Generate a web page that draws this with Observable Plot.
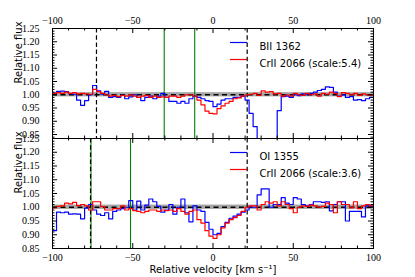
<!DOCTYPE html>
<html><head><meta charset="utf-8">
<script src="https://cdn.jsdelivr.net/npm/d3@7"></script>
<script src="https://cdn.jsdelivr.net/npm/@observablehq/plot@0.6"></script>
<style>
body{margin:0;background:#fff;}
#chart{position:relative;width:415px;height:277px;overflow:hidden;}
#chart svg{position:absolute;left:0;overflow:visible;}
</style></head><body><div id="chart"></div>
<script>
// left edges of the 2.5 km/s velocity bins
const velocity = [-100,-97.5,-95,-92.5,-90,-87.5,-85,-82.5,-80,-77.5,-75,-72.5,-70,-67.5,-65,-62.5,-60,-57.5,-55,-52.5,-50,-47.5,-45,-42.5,-40,-37.5,-35,-32.5,-30,-27.5,-25,-22.5,-20,-17.5,-15,-12.5,-10,-7.5,-5,-2.5,0,2.5,5,7.5,10,12.5,15,17.5,20,22.5,25,27.5,30,32.5,35,37.5,40,42.5,45,47.5,50,52.5,55,57.5,60,62.5,65,67.5,70,72.5,75,77.5,80,82.5,85,87.5,90,92.5,95,97.5];
// top panel: BII 1362 (blue) and CrII 2066 scaled 5.4 (red)
const topBlue = [1.006,1.013,1.014,1.012,1.004,1.002,0.98,0.96,0.978,1.0,1.035,1.015,1.002,1.013,0.99,0.993,0.99,0.998,0.985,0.992,1.0,0.99,0.978,0.99,0.995,0.985,0.995,1.005,0.99,0.975,0.975,0.968,0.975,0.968,0.985,0.995,0.99,0.985,0.978,0.975,0.955,0.965,0.98,0.985,0.985,0.99,0.99,0.995,0.98,0.93,0.88,0.6,0.6,0.6,0.6,0.6,0.94,0.993,0.995,0.99,1.0,0.997,1.003,1.0,1.005,1.01,1.016,1.02,1.03,1.028,1.01,0.995,1.0,0.99,0.993,0.98,0.982,0.978,0.985,0.99];
const topRed = [1.005,1.008,1.005,1.01,1.005,1.008,1.003,1.005,1.003,1.002,1.02,1.012,1.005,1.0,0.995,0.998,0.993,0.998,0.995,1.0,0.995,0.99,0.995,0.998,0.99,0.995,0.99,0.992,0.99,0.995,0.995,0.99,0.995,1.0,1.0,0.995,0.98,0.962,0.938,0.93,0.928,0.948,0.958,0.968,0.975,0.985,0.988,0.995,1.0,1.002,1.005,0.998,1.015,1.01,1.012,1.003,1.005,0.995,1.0,0.995,1.005,1.0,0.998,1.005,1.0,1.003,0.995,1.005,1.002,1.01,1.005,0.993,1.008,1.005,1.0,1.005,0.998,1.003,1.0,0.998];
// bottom panel: OI 1355 (blue) and CrII 2066 scaled 3.6 (red)
const botBlue = [0.915,0.982,0.98,0.982,0.975,0.976,0.975,0.958,0.997,1.01,0.99,0.975,0.97,0.98,0.958,0.985,0.99,0.995,1.0,1.024,0.99,1.022,0.99,1.008,1.03,1.02,1.003,0.982,0.99,1.01,0.975,1.0,1.03,0.98,0.947,1.005,0.99,0.985,0.945,0.92,0.9,0.905,0.93,0.945,0.96,0.968,0.975,0.982,0.99,1.0,1.0,1.045,1.067,1.067,1.0,1.01,1.01,1.035,1.015,1.01,1.035,1.03,1.01,1.005,1.01,1.02,1.02,1.018,1.02,0.987,1.01,1.02,1.02,0.95,0.985,0.985,0.985,0.965,1.005,1.003];
const botRed = [0.998,1.003,1.005,1.015,1.012,1.018,1.006,1.01,1.005,0.99,1.02,1.02,1.002,0.99,0.99,0.995,0.995,1.005,0.99,0.995,0.988,0.985,0.98,0.985,0.99,0.99,0.985,0.99,0.988,0.99,0.985,0.995,0.985,0.975,0.985,0.99,0.955,0.942,0.915,0.895,0.887,0.9,0.925,0.942,0.955,0.962,0.97,0.985,1.0,1.005,1.005,0.99,1.01,1.02,1.015,1.02,1.005,1.02,1.01,0.995,0.98,1.0,1.005,1.003,1.008,1.005,1.0,1.003,1.015,1.01,0.98,1.02,1.01,1.01,0.998,1.02,0.995,1.005,1.01,1.005];

const xDomain = [-100, 100];
const xTicks = [-100, -50, 0, 50, 100];
const yTicks = [0.85, 0.90, 0.95, 1.00, 1.05, 1.10, 1.15, 1.20, 1.25];
const topYDomain = [0.835, 1.25];
const botYDomain = [0.85, 1.25];
const topDashed = [-72.6, 21.3];
const topGreen = [-30.4, -11.4];
const botDashed = [-76.3, 21.3];
const botGreen = [-76.0, -51.4];
const band = [{lo: 0.992, hi: 1.008}];
const continuum = [1.0];
const topLegend = ["BII 1362", "CrII 2066 (scale:5.4)"];
const botLegend = ["OI 1355", "CrII 2066 (scale:3.6)"];
const yLabel = "Relative flux";
const xLabel = "Relative velocity [km s\u207B\u00B9]";

const W = 415, ML = 52, MR = 42;
const SANS = "DejaVu Sans";
const SERIF = "Liberation Serif";
const fmtX = d => d < 0 ? "\u2212" + (-d) : String(d);

function panel({blue, red, yDomain, dashed, green, legend, top, height, marginTop, marginBottom, xAxis}) {
  const innerH = height - marginTop - marginBottom;
  const innerW = W - ML - MR;
  const steps = vals => velocity.map((v, i) => ({v, f: vals[i]})).concat([{v: xDomain[1], f: vals[vals.length - 1]}]);
  const xMinor = d3.range(-100, 101, 10).filter(t => !xTicks.includes(t));
  const yMinor = d3.range(84, 126, 1).map(t => t / 100).filter(t => t >= yDomain[0] - 1e-9 && t <= yDomain[1] + 1e-9 && Math.abs(t * 20 - Math.round(t * 20)) > 1e-6);
  const yMaj = yTicks.filter(t => t >= yDomain[0] - 1e-9 && t <= yDomain[1] + 1e-9);
  const majL = 5, minL = 2.5;
  const plot = Plot.plot({
    width: W, height, marginTop, marginBottom, marginLeft: ML, marginRight: MR,
    style: {background: "none", fontFamily: SERIF, fontSize: "10px", color: "black"},
    x: {domain: xDomain},
    y: {domain: yDomain},
    marks: [
      Plot.rect(band, {x1: () => xDomain[0], x2: () => xDomain[1], y1: "lo", y2: "hi", fill: "#8a8a8a", fillOpacity: 0.75}),
      Plot.ruleY(continuum, {stroke: "black", strokeWidth: 1.5, strokeDasharray: "5,3.5"}),
      Plot.ruleX(green, {stroke: "#008000", strokeWidth: 1.1}),
      Plot.ruleX(dashed, {stroke: "black", strokeWidth: 1.2, strokeDasharray: "4.5,2.7"}),
      Plot.line(steps(blue), {x: "v", y: "f", curve: "step-after", stroke: "#0000ff", strokeWidth: 1.2, clip: true}),
      Plot.line(steps(red), {x: "v", y: "f", curve: "step-after", stroke: "#ff0000", strokeWidth: 1.2, clip: true}),
      // inward ticks on all four sides
      Plot.ruleX(xTicks, {insetTop: innerH - majL, stroke: "black"}),
      Plot.ruleX(xTicks, {insetBottom: innerH - majL, stroke: "black"}),
      Plot.ruleX(xMinor, {insetTop: innerH - minL, stroke: "black"}),
      Plot.ruleX(xMinor, {insetBottom: innerH - minL, stroke: "black"}),
      Plot.ruleY(yMaj, {insetRight: innerW - majL, stroke: "black"}),
      Plot.ruleY(yMaj, {insetLeft: innerW - majL, stroke: "black"}),
      Plot.ruleY(yMinor, {insetRight: innerW - minL, stroke: "black"}),
      Plot.ruleY(yMinor, {insetLeft: innerW - minL, stroke: "black"}),
      Plot.frame({stroke: "black", strokeWidth: 1}),
      Plot.axisY({ticks: yTicks.filter(t => t >= yDomain[0] - 1e-9), tickSize: 0, tickPadding: 13, tickFormat: d3.format(".2f"), label: null}),
      Plot.axisX({anchor: xAxis, ticks: xTicks, tickSize: 0, tickPadding: 5, tickFormat: fmtX, label: null}),
      Plot.text([yLabel], {frameAnchor: "left", rotate: -90, dx: -34, fontFamily: SANS, fontSize: 10}),
      ...(xAxis === "bottom" ? [Plot.text([xLabel], {frameAnchor: "bottom", dy: 24, fontFamily: SANS, fontSize: 10})] : []),
      Plot.text([legend[0]], {frameAnchor: "top-right", textAnchor: "start", dx: -114, dy: 14.5, fontFamily: SANS, fontSize: 10}),
      Plot.text([legend[1]], {frameAnchor: "top-right", textAnchor: "start", dx: -114, dy: 31.5, fontFamily: SANS, fontSize: 10})
    ]
  });
  plot.style.top = top + "px";
  // legend swatches
  const svg = d3.select(plot);
  const x0 = W - MR - 143, x1 = W - MR - 126;
  [["#0000ff", 14.5], ["#ff0000", 31.5]].forEach(([c, dy]) => {
    svg.append("line").attr("x1", x0).attr("x2", x1)
      .attr("y1", marginTop + dy).attr("y2", marginTop + dy)
      .attr("stroke", c).attr("stroke-width", 1.2);
  });
  return plot;
}

const chart = document.getElementById("chart");
chart.append(panel({blue: topBlue, red: topRed, yDomain: topYDomain, dashed: topDashed, green: topGreen, legend: topLegend, top: 0, height: 138, marginTop: 28, marginBottom: 0, xAxis: "top"}));
chart.append(panel({blue: botBlue, red: botRed, yDomain: botYDomain, dashed: botDashed, green: botGreen, legend: botLegend, top: 138, height: 139, marginTop: 0, marginBottom: 29, xAxis: "bottom"}));
</script></body></html>
